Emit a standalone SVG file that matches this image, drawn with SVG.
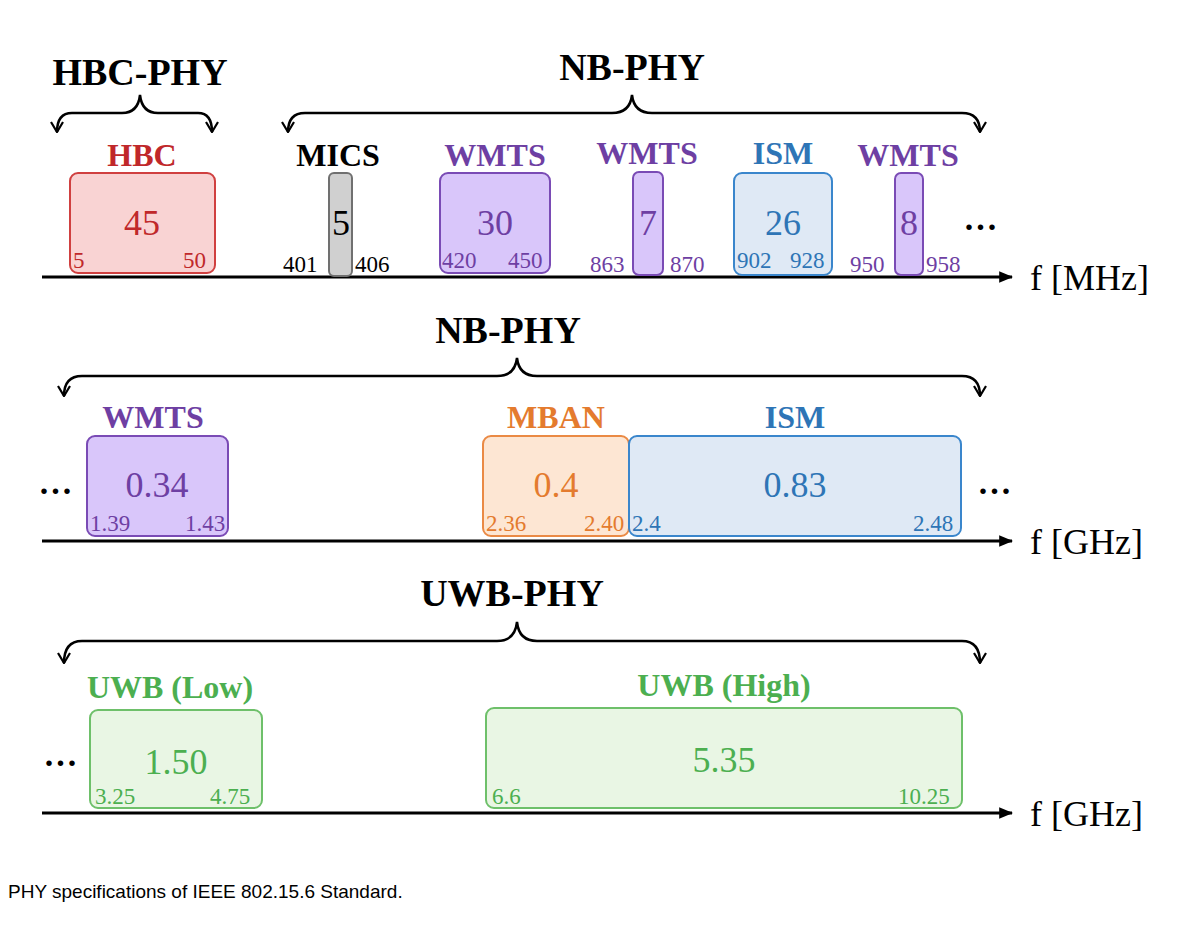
<svg xmlns="http://www.w3.org/2000/svg" width="1200" height="945" viewBox="0 0 1200 945">
<style>
text{font-family:"Liberation Serif",serif}
.t{font-weight:bold;font-size:38px;text-anchor:middle;fill:#000}
.l{font-weight:bold;font-size:32px;text-anchor:middle}
.v{font-size:36px;text-anchor:middle}
.s{font-size:23px}
.d{font-size:34px;font-weight:bold;letter-spacing:3px;text-anchor:middle}
.ax{stroke:#000;stroke-width:3;fill:none}
.br{stroke:#000;stroke-width:2.5;fill:none}
.r{fill:#f9d3d3;stroke:#d04040;stroke-width:2}.rt{fill:#c0282a}
.p{fill:#d9c6fa;stroke:#7a4bb5;stroke-width:2}.pt{fill:#6e3fa3}
.b{fill:#dfe9f5;stroke:#3a86cc;stroke-width:2}.bt{fill:#2e75b6}
.o{fill:#fde6d3;stroke:#ea8a45;stroke-width:2}.ot{fill:#e47b2e}
.g{fill:#e9f6e4;stroke:#6ec06a;stroke-width:2}.gt{fill:#4caf50}
.k{fill:#d0d0d0;stroke:#707070;stroke-width:2}.kt{fill:#000}
</style>
<defs>
<marker id="v" viewBox="0 0 12 14" refX="11" refY="7" markerWidth="12" markerHeight="14" markerUnits="userSpaceOnUse" orient="auto-start-reverse"><path d="M1,1 L11,7 L1,13" fill="none" stroke="#000" stroke-width="2.2"/></marker>
<marker id="ah" viewBox="0 0 12 10" refX="11" refY="5" markerWidth="14" markerHeight="12" markerUnits="userSpaceOnUse" orient="auto"><path d="M0,0 L12,5 L0,10 Z" fill="#000"/></marker>
</defs>
<g id="connectors">
<path class="ax" d="M42,277 H1012" marker-end="url(#ah)"/>
<path class="ax" d="M42,541 H1012" marker-end="url(#ah)"/>
<path class="ax" d="M42,813 H1012" marker-end="url(#ah)"/>
<path class="br" d="M57,132 Q57,113 72,113 H122 Q138,113 140,95 Q142,113 158,113 H198 Q212,113 212,132" marker-start="url(#v)" marker-end="url(#v)"/>
<path class="br" d="M288,132 Q288,113 305,113 H612 Q630,113 632,95 Q634,113 652,113 H962 Q980,113 980,132" marker-start="url(#v)" marker-end="url(#v)"/>
<path class="br" d="M64,396 Q64,376 82,376 H497 Q515,376 517,358 Q519,376 537,376 H962 Q980,376 980,396" marker-start="url(#v)" marker-end="url(#v)"/>
<path class="br" d="M64,663 Q64,641 82,641 H497 Q515,641 517,622 Q519,641 537,641 H962 Q980,641 980,663" marker-start="url(#v)" marker-end="url(#v)"/>
</g>
<g id="titles">
<text class="t" x="140" y="85">HBC-PHY</text>
<text class="t" x="632" y="80">NB-PHY</text>
<text class="t" x="508" y="343">NB-PHY</text>
<text class="t" x="512" y="606">UWB-PHY</text>
</g>
<g id="hbc"><text class="l rt" x="142" y="166">HBC</text><rect class="r" x="70" y="173" width="145" height="100" rx="8"/><text class="v rt" x="142" y="235">45</text><text class="s rt" x="73" y="268">5</text><text class="s rt" x="183" y="268">50</text></g>
<g id="mics"><text class="l kt" x="338" y="166">MICS</text><rect class="k" x="329" y="173" width="23" height="103" rx="5"/><text class="v kt" x="341" y="235">5</text><text class="s kt" x="283" y="272">401</text><text class="s kt" x="355" y="272">406</text></g>
<g id="wmts1"><text class="l pt" x="495" y="166">WMTS</text><rect class="p" x="440" y="173" width="110" height="100" rx="8"/><text class="v pt" x="495" y="235">30</text><text class="s pt" x="442" y="268">420</text><text class="s pt" x="508" y="268">450</text></g>
<g id="wmts2"><text class="l pt" x="647" y="164">WMTS</text><rect class="p" x="633" y="172" width="30" height="103" rx="6"/><text class="v pt" x="648" y="235">7</text><text class="s pt" x="590" y="272">863</text><text class="s pt" x="670" y="272">870</text></g>
<g id="ism1"><text class="l bt" x="783" y="164">ISM</text><rect class="b" x="734" y="173" width="98" height="102" rx="8"/><text class="v bt" x="783" y="235">26</text><text class="s bt" x="737" y="268">902</text><text class="s bt" x="790" y="268">928</text></g>
<g id="wmts3"><text class="l pt" x="908" y="166">WMTS</text><rect class="p" x="895" y="173" width="28" height="102" rx="6"/><text class="v pt" x="909" y="235">8</text><text class="s pt" x="850" y="272">950</text><text class="s pt" x="926" y="272">958</text><text class="d kt" x="982" y="230">...</text></g>
<text x="1030" y="290" style="font-size:36px">f [MHz]</text>
<g id="wmts4"><text class="d kt" x="57" y="494">...</text><text class="l pt" x="153" y="428">WMTS</text><rect class="p" x="87" y="436" width="141" height="100" rx="8"/><text class="v pt" x="157" y="497">0.34</text><text class="s pt" x="90" y="531">1.39</text><text class="s pt" x="185" y="531">1.43</text></g>
<g id="mban"><text class="l ot" x="556" y="428">MBAN</text><rect class="o" x="483" y="436" width="146" height="100" rx="8"/><text class="v ot" x="556" y="497">0.4</text><text class="s ot" x="486" y="531">2.36</text><text class="s ot" x="584" y="531">2.40</text></g>
<g id="ism2"><text class="l bt" x="795" y="428">ISM</text><rect class="b" x="629" y="436" width="332" height="100" rx="8"/><text class="v bt" x="795" y="497">0.83</text><text class="s bt" x="632" y="531">2.4</text><text class="s bt" x="913" y="531">2.48</text><text class="d kt" x="996" y="494">...</text></g>
<text x="1030" y="554" style="font-size:36px">f [GHz]</text>
<g id="uwblow"><text class="d kt" x="62" y="766">...</text><text class="l gt" x="170" y="698">UWB (Low)</text><rect class="g" x="90" y="710" width="172" height="98" rx="8"/><text class="v gt" x="176" y="774">1.50</text><text class="s gt" x="95" y="804">3.25</text><text class="s gt" x="210" y="804">4.75</text></g>
<g id="uwbhigh"><text class="l gt" x="724" y="696">UWB (High)</text><rect class="g" x="486" y="708" width="476" height="100" rx="8"/><text class="v gt" x="724" y="772">5.35</text><text class="s gt" x="492" y="804">6.6</text><text class="s gt" x="898" y="804">10.25</text></g>
<text x="1030" y="826" style="font-size:36px">f [GHz]</text>
<text x="8" y="898" style="font-family:'Liberation Sans',sans-serif;font-size:19px">PHY specifications of IEEE 802.15.6 Standard.</text>
</svg>
